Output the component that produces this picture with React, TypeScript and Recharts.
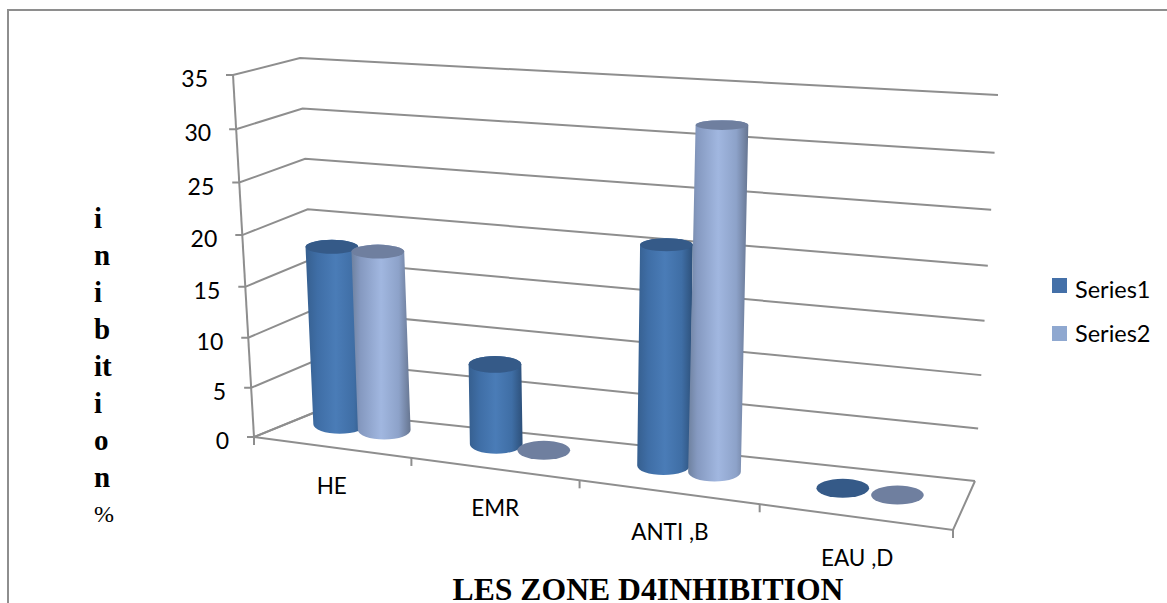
import React from "react";
import { BarChart, Bar, XAxis, YAxis } from "recharts";

const W = 1167;
const H = 603;

const categories = ["HE", "EMR", "ANTI ,B", "EAU ,D"];
const series1Values = [17.5, 7.8, 20.9, 0];
const series2Values = [17.5, 0, 32.2, 0];
const yTicks = [0, 5, 10, 15, 20, 25, 30, 35];
const yMax = 35;
const yTitleLetters = ["i", "n", "i", "b", "it", "i", "o", "n"];

const chartData = categories.map((name, i) => ({
  name,
  series1: series1Values[i],
  series2: series2Values[i],
}));

// corners of the 3D box: front/back, floor/ceiling
const FL0 = [254, 437];
const FR0 = [953, 530];
const BL0 = [318, 411];
const BR0 = [975, 481];
const FL1 = [233, 75];
const FR1 = [979, 131];
const BL1 = [300, 58];
const BR1 = [998, 95];

const GRID = "#8e8e8e";
const LABEL_FONT = "Lato, 'Open Sans', sans-serif";
const BAR_DEPTH = 0.6;

const mix = (a: number[], b: number[], t: number) => [a[0] + (b[0] - a[0]) * t, a[1] + (b[1] - a[1]) * t];

// bands get wider towards the viewer on the right
const warp = (u: number) => u / (1 + 0.147 * (1 - u));

// u across the floor, d front to back, v floor to ceiling
function project(u: number, d: number, v: number) {
  const t = warp(u);
  const floor = mix(mix(FL0, FR0, t), mix(BL0, BR0, t), d);
  const ceil = mix(mix(FL1, FR1, t), mix(BL1, BR1, t), d);
  // value steps grow with height, except at the far left corner
  const k = 0.056 * (1 - d * (1 - t));
  return mix(floor, ceil, v * (1 - k * (1 - v)));
}

// bars sit slightly off the depth line, more so at the ends
function projectBar(u: number, v: number) {
  const p = project(u, BAR_DEPTH, v);
  return [p[0] - 6 + 5 * u, p[1] - 4 + 7 * u];
}

const polyline = (pts: number[][]) => pts.map((p) => p.join(",")).join(" ");

function YTick(props: any) {
  const front = project(0, 0, props.payload.value / yMax);
  return (
    <text x={front[0] - 25} y={front[1] + 12} textAnchor="end" fontFamily={LABEL_FONT} fontSize={23} fill="#000">
      {props.payload.value}
    </text>
  );
}

function XTick(props: any) {
  const band = 1 / categories.length;
  const i = props.index;
  const u = props.x / W;
  const pos = project(u, 0, 0);
  const marks = i === 0 ? [0, band] : [(i + 1) * band];
  return (
    <g>
      {marks.map((m) => {
        const p = project(m, 0, 0);
        return <line key={m} x1={p[0]} y1={p[1]} x2={p[0]} y2={p[1] + 8} stroke={GRID} strokeWidth={2} />;
      })}
      <text x={pos[0] + 3 * u} y={pos[1] + 47 + 3 * u * u} textAnchor="middle" fontFamily={LABEL_FONT} fontSize={22.5} fill="#000">
        {props.payload.value}
      </text>
    </g>
  );
}

// cylinder: the library's flat bar rectangle pushed through the projection
function Cylinder(props: any) {
  const { x, width, height, gradient, topFill } = props;
  const uc = (x + width / 2) / W;
  const v = Math.max(0, (height || 0) / H);
  const base = projectBar(uc, 0);
  const top = projectBar(uc, v);
  const rx = width * 0.31;
  const ryBase = 9.5;
  const ryTop = ryBase - 5 * v;
  if (!height) {
    return <ellipse cx={base[0]} cy={base[1]} rx={rx} ry={ryBase} fill={topFill} />;
  }
  const body = [
    `M${base[0] - rx},${base[1]}`,
    `A${rx},${ryBase} 0 0 0 ${base[0] + rx},${base[1]}`,
    `L${top[0] + rx},${top[1]}`,
    `A${rx},${ryTop} 0 0 0 ${top[0] - rx},${top[1]}`,
    "Z",
  ].join(" ");
  return (
    <g>
      <path d={body} fill={`url(#${gradient})`} />
      <ellipse cx={top[0]} cy={top[1]} rx={rx} ry={ryTop} fill={topFill} />
    </g>
  );
}

const frontEdge = polyline([project(0, 1, 0), project(0, 0, 0), project(1, 0, 0), project(1, 1, 0)]);
const leftEdge = polyline([project(0, 0, 1), project(0, 0, 0)]);

// walls go under the chart so the cylinders cover them
function gridLine(value: number) {
  const v = value / yMax;
  const front = project(0, 0, v);
  return polyline([[front[0] - 7, front[1]], front, project(0, 1, v), project(1, 1, v)]);
}

export default function App() {
  return (
    <div style={{ position: "absolute", left: 0, top: 0, width: W, height: H, overflow: "hidden", background: "#fff" }}>
      <svg width={W} height={H} style={{ position: "absolute", left: 0, top: 0 }}>
        <polyline points={`8,${H} 8,10 ${W},10`} fill="none" stroke="#8e8e8e" strokeWidth={2} />
        {yTicks.map((t) => (
          <polyline key={t} points={gridLine(t)} fill="none" stroke={GRID} strokeWidth={2} />
        ))}
        <polyline points={frontEdge} fill="none" stroke={GRID} strokeWidth={2} />
        <polyline points={leftEdge} fill="none" stroke={GRID} strokeWidth={2} />
      </svg>
      <BarChart
        width={W}
        height={H}
        data={chartData}
        margin={{ top: 0, right: 0, bottom: 0, left: 0 }}
        barCategoryGap="21%"
        barGap={0}
        style={{ position: "absolute", left: 0, top: 0 }}
      >
        <defs>
          <linearGradient id="cyl1" x1="0" y1="0" x2="1" y2="0">
            <stop offset="0" stopColor="#365f8f" />
            <stop offset="0.2" stopColor="#3f6ea6" />
            <stop offset="0.5" stopColor="#4a7cb7" />
            <stop offset="0.8" stopColor="#3f6ea5" />
            <stop offset="1" stopColor="#2d507a" />
          </linearGradient>
          <linearGradient id="cyl2" x1="0" y1="0" x2="1" y2="0">
            <stop offset="0" stopColor="#6e819f" />
            <stop offset="0.15" stopColor="#8599c0" />
            <stop offset="0.5" stopColor="#a1b7e0" />
            <stop offset="0.8" stopColor="#8da2c9" />
            <stop offset="1" stopColor="#667590" />
          </linearGradient>
        </defs>
        <YAxis
          mirror
          domain={[0, yMax]}
          ticks={yTicks}
          interval={0}
          axisLine={false}
          tickLine={false}
          tick={YTick}
        />
        <XAxis mirror dataKey="name" interval={0} axisLine={false} tickLine={false} tick={XTick} />
        <Bar
          dataKey="series1"
          isAnimationActive={false}
          shape={(p: any) => <Cylinder {...p} gradient="cyl1" topFill="#355a88" />}
        />
        <Bar
          dataKey="series2"
          isAnimationActive={false}
          shape={(p: any) => <Cylinder {...p} gradient="cyl2" topFill="#6f7f9f" />}
        />
      </BarChart>
      <svg width={W} height={H} style={{ position: "absolute", left: 0, top: 0, pointerEvents: "none" }}>
        {yTitleLetters.map((s, i) => (
          <text key={i} x={94} y={228 + i * 37} fontFamily="'Liberation Serif', serif" fontWeight="bold" fontSize={29}>
            {s}
          </text>
        ))}
        <text x={94} y={522} fontFamily="'Liberation Serif', serif" fontSize={24}>%</text>
        <text x={648} y={600} textAnchor="middle" fontFamily="'Liberation Serif', serif" fontWeight="bold" fontSize={31.7}>
          LES ZONE D4INHIBITION
        </text>
        <rect x={1052} y={278} width={15} height={15} fill="#4470a8" />
        <text x={1075} y={298} fontFamily={LABEL_FONT} fontSize={23.5}>Series1</text>
        <rect x={1052} y={326} width={15} height={15} fill="#8fa8d0" />
        <text x={1075} y={342} fontFamily={LABEL_FONT} fontSize={23.5}>Series2</text>
      </svg>
    </div>
  );
}
